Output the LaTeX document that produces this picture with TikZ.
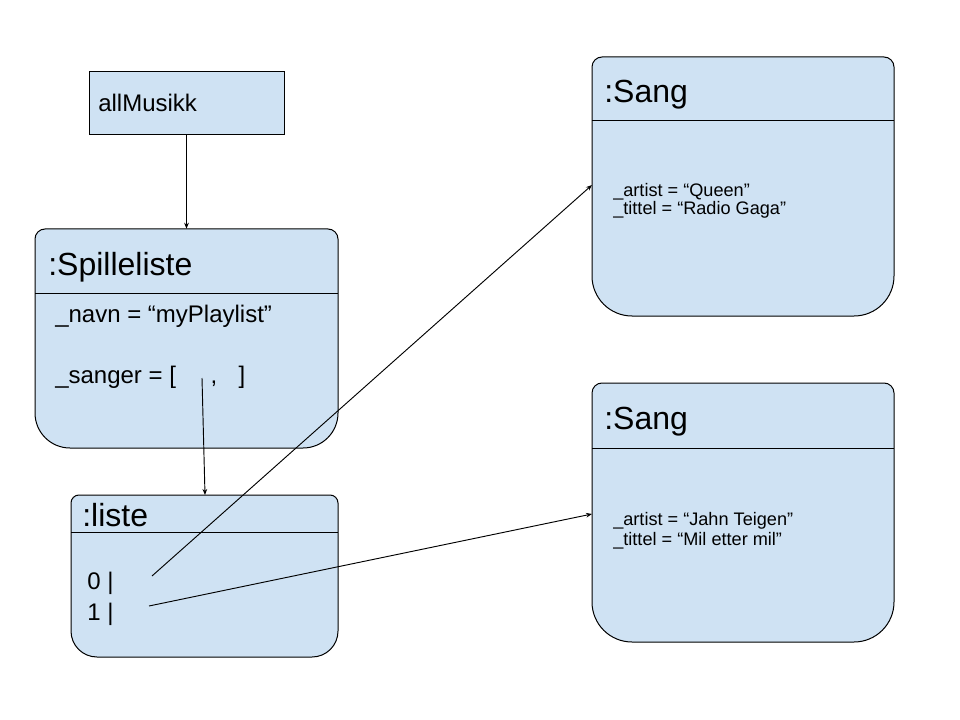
\documentclass[tikz,border=0pt]{standalone}
\usepackage{fontspec}
\setmainfont{Liberation Sans}
\usetikzlibrary{arrows.meta,fit}
\definecolor{boxfill}{HTML}{CFE2F3}
\tikzset{
  outline/.style={draw=black, line width=0.75pt, fill=boxfill},
  divline/.style={draw=black, line width=0.75pt},
  arr/.style={draw=black, line width=0.7pt, -{Stealth[length=4.5pt,width=3.5pt]}},
  titletext/.style={anchor=base west, inner sep=0, font=\fontsize{24}{28}\selectfont},
  attrtext/.style={anchor=base west, inner sep=0, font=\fontsize{18}{22}\selectfont},
  idxtext/.style={anchor=base west, inner sep=0, font=\fontsize{18}{22}\selectfont},
  smalltext/.style={anchor=base west, inner sep=0, font=\fontsize{13.6}{16}\selectfont},
}
% name, x1, y1, x2, y2, ydiv, top radius, bottom radius
\newcommand\objbox[8]{%
  \path[outline] (#2,#3+#7) arc[start angle=180, end angle=270, radius=#7]
    -- (#4-#7,#3) arc[start angle=270, end angle=360, radius=#7]
    -- (#4,#5-#8) arc[start angle=0, end angle=90, radius=#8]
    -- (#2+#8,#5) arc[start angle=90, end angle=180, radius=#8] -- cycle;
  \draw[divline] (#2,#6) -- (#4,#6);
  \node[fit={(#2,#3) (#4,#5)}, inner sep=0] (#1) {};
}
\begin{document}
\begin{tikzpicture}[x=0.75pt, y=-0.75pt]
\useasboundingbox (0,0) rectangle (960,720);

% allMusikk
\path[outline] (89,72) rectangle (284,135);
\node[fit={(89,72) (284,135)}, inner sep=0] (allm) {};
\node[attrtext] (allmtxt) at (98,112) {allMusikk};

% Spilleliste
\objbox{spl}{35}{229}{338}{448}{294}{10}{35}
\node[titletext] (spltitle) at (48,276) {:Spilleliste};
\node[attrtext] (navn) at (55,322) {\_navn = “myPlaylist”};
\node[attrtext] (sanger) at (55,383) {\_sanger = [\hspace{26pt},\hspace{16pt}]};

% liste
\objbox{liste}{71}{495}{338}{657}{532}{8}{26}
\node[titletext] (listetitle) at (82,526) {:liste};
\node[idxtext] (idx0) at (87,589) {0 |};
\node[idxtext] (idx1) at (87,620) {1 |};

% Sang 1
\objbox{sang1}{592}{57}{894}{316}{121}{10}{40}
\node[titletext] (sang1title) at (604,103) {:Sang};
\node[smalltext] (s1a) at (613,197) {\_artist = “Queen”};
\node[smalltext] (s1t) at (613,215) {\_tittel = “Radio Gaga”};

% Sang 2
\objbox{sang2}{592}{383}{894}{642}{448}{10}{40}
\node[titletext] (sang2title) at (604,429) {:Sang};
\node[smalltext] (s2a) at (613,525) {\_artist = “Jahn Teigen”};
\node[smalltext] (s2t) at (613,545) {\_tittel = “Mil etter mil”};

% connector ends
\coordinate (sangerref) at (202,378);
\coordinate (listetop) at (205,495);
\coordinate (ref0) at (152,576);
\coordinate (ref1) at (149,606);
\coordinate (sang1in) at (592,185);
\coordinate (sang2in) at (592,514);

\draw[arr] (allm.south) -- (spl.north);
\draw[arr] (sangerref) -- (listetop);
\draw[arr] (ref0) -- (sang1in);
\draw[arr] (ref1) -- (sang2in);
\end{tikzpicture}
\end{document}
